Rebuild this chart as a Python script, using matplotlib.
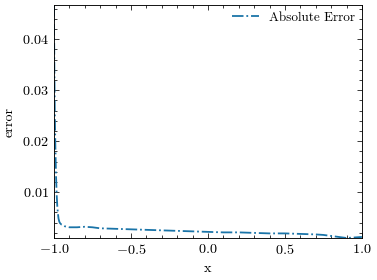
import numpy as np
import matplotlib
matplotlib.use('Agg')
import matplotlib.pyplot as plt
from matplotlib.ticker import AutoMinorLocator, MultipleLocator

# values
x_vals = [-1.0, -0.997, -0.994, -0.99, -0.986, -0.982, -0.978, -0.974, -0.97, -0.965,
          -0.96, -0.95, -0.93, -0.9, -0.85, -0.8, -0.75, -0.7, -0.6, -0.5, -0.4,
          -0.3, -0.2, -0.1, 0.0, 0.1, 0.2, 0.3, 0.4, 0.5, 0.6, 0.7, 0.75, 0.8,
          0.85, 0.9, 0.95, 1.0]
err_vals = [0.0467, 0.034, 0.025, 0.018, 0.013, 0.0095, 0.0072, 0.0058, 0.0048, 0.0042,
            0.0039, 0.0036, 0.0033, 0.0031, 0.0031, 0.0032, 0.0031, 0.0029, 0.0028, 0.0027, 0.0026,
            0.0025, 0.0024, 0.0023, 0.0022, 0.0021, 0.0021, 0.0020, 0.0019, 0.0019, 0.0018, 0.0017, 0.0016, 0.0014,
            0.0012, 0.0010, 0.0011, 0.0012]

plt.rcParams['font.family'] = ['cmr10', 'DejaVu Serif']
plt.rcParams['mathtext.fontset'] = 'cm'
plt.rcParams['axes.formatter.use_mathtext'] = True
plt.rcParams['font.size'] = 9.5
plt.rcParams['axes.linewidth'] = 0.6
plt.rcParams['xtick.direction'] = 'in'
plt.rcParams['ytick.direction'] = 'in'
plt.rcParams['xtick.top'] = True
plt.rcParams['ytick.right'] = True
plt.rcParams['xtick.major.size'] = 3.5
plt.rcParams['ytick.major.size'] = 3.5
plt.rcParams['xtick.minor.size'] = 1.8
plt.rcParams['ytick.minor.size'] = 1.8
plt.rcParams['xtick.major.width'] = 0.5
plt.rcParams['ytick.major.width'] = 0.5
plt.rcParams['xtick.minor.width'] = 0.5
plt.rcParams['ytick.minor.width'] = 0.5

fig, ax = plt.subplots(figsize=(3.5, 2.6), dpi=377 / 3.5)
fig.subplots_adjust(left=0.143, right=0.960, top=0.982, bottom=0.15)

ax.plot(x_vals, err_vals, '-.', color='#1a74a8', linewidth=1.2, label='Absolute Error')
ax.margins(x=0, y=0)

ax.xaxis.set_major_locator(MultipleLocator(0.5))
ax.xaxis.set_minor_locator(AutoMinorLocator(5))
ax.yaxis.set_major_locator(MultipleLocator(0.01))
ax.yaxis.set_minor_locator(AutoMinorLocator(5))

ax.set_xlabel('x')
ax.set_ylabel('error')
ax.legend(frameon=False, loc='upper right', borderaxespad=0.1, handlelength=2,
          fontsize=8.8)

plt.savefig('out.png', dpi=377 / 3.5)
plt.close()
